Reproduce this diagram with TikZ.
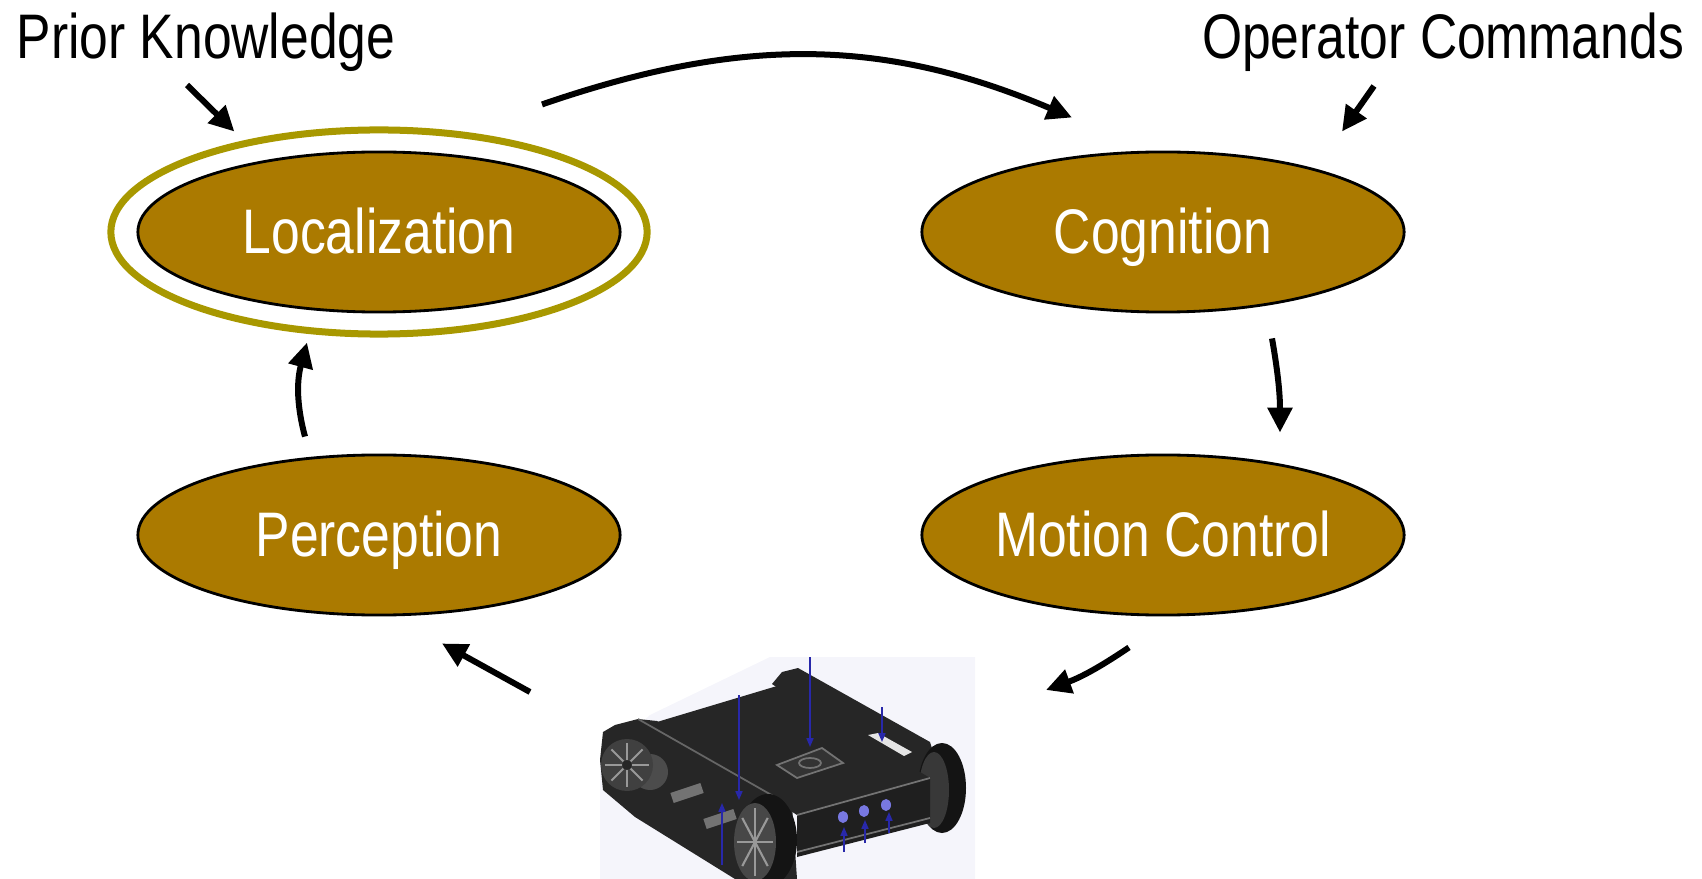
\documentclass[tikz,border=0pt]{standalone}
\usepackage{fontspec}
\usetikzlibrary{arrows.meta,shapes.geometric}
\newfontfamily\narrowsf[FakeStretch=0.82]{Liberation Sans}
\definecolor{ovalfill}{RGB}{171,122,0}
\definecolor{ringgold}{RGB}{168,152,0}
\definecolor{dimblue}{RGB}{40,40,170}
\definecolor{btnblue}{RGB}{120,120,225}
\definecolor{bgshade}{RGB}{245,245,251}

\begin{document}
\begin{tikzpicture}[x=0.01cm,y=0.01cm,>={Triangle[length=0.25cm,width=0.24cm]},
	stage/.style={ellipse,draw=black,line width=0.8pt,fill=ovalfill,text=white,
		minimum width=4.82cm,minimum height=1.6cm,inner sep=0pt,
		font=\narrowsf\fontsize{17.9}{20}\selectfont,text height=0.42cm,text depth=0pt},
	ring/.style={ellipse,draw=ringgold,line width=0.07cm,
		minimum width=5.36cm,minimum height=2.04cm,inner sep=0pt},
	inputlabel/.style={font=\narrowsf\fontsize{17.9}{20}\selectfont,inner sep=0pt,anchor=base},
	flow/.style={->,line width=0.06cm},
	dimline/.style={dimblue,line width=0.4pt,-{Triangle[length=2.5pt,width=2pt]}}]
	\useasboundingbox (0,0) rectangle (1702,-879);

	% the four stages
	\node[stage] (loc) at (379,-232) {Localization};
	\node[ring] (locring) at (loc) {};
	\node[stage] (cog) at (1163,-232) {Cognition};
	\node[stage] (per) at (379,-535) {Perception};
	\node[stage] (mot) at (1163,-535) {Motion Control};
	\node[inputlabel] (prior) at (206,-59) {Prior Knowledge};
	\node[inputlabel] (oper) at (1443,-59) {Operator Commands};

	% robot
	\fill[bgshade] (770,-657) -- (975,-657) -- (975,-879) -- (600,-879) -- (600,-760) -- (650,-715) -- cycle;
	\fill[black!85] (772,-684) -- (782,-672) -- (798,-668) -- (930,-742) -- (948,-800) -- (925,-790) -- cycle;
	\fill[black!92] (942,-788) ellipse [x radius=24, y radius=45];
	\fill[black!78] (934,-790) ellipse [x radius=15, y radius=38];
	\fill[black!85] (657,-722) -- (777,-686) -- (930,-778) -- (797,-815) -- cycle;
	\fill[white!90!black] (868,-735) -- (878,-733) -- (912,-752) -- (904,-756) -- cycle;
	\fill[black!88] (797,-815) -- (930,-778) -- (930,-823) -- (797,-857) -- cycle;
	\draw[black!55,line width=0.5pt] (797,-815) -- (930,-778);
	\draw[black!55,line width=0.5pt] (797,-852) -- (930,-818);
	\draw[black!55,line width=0.5pt,fill=black!80] (777,-765) -- (822,-748) -- (843,-763) -- (797,-778) -- cycle;
	\draw[black!55,line width=0.5pt] (810,-763) ellipse [x radius=11, y radius=5];
	\fill[black!85] (603,-732) -- (615,-725) -- (638,-719) -- (657,-721) -- (775,-797) -- (792,-805)
		-- (797,-879) -- (735,-879) -- (635,-817) -- (603,-790) -- (600,-760) -- cycle;
	\draw[black!60,line width=0.5pt] (638,-719) -- (775,-797);
	\draw[black!55,line width=3pt] (672,-798) -- (702,-788);
	\draw[black!55,line width=3pt] (705,-824) -- (735,-814);
	\fill[black!70] (650,-772) circle [radius=18];
	\fill[black!75] (627,-765) circle [radius=26];
	\foreach \a in {0,45,...,315}
		\draw[black!40,line width=0.6pt] (627,-765) -- ++(\a:22);
	\fill[black!85] (627,-765) circle [radius=5];
	\fill[black!92] (768,-840) ellipse [x radius=29, y radius=46];
	\fill[black!72] (755,-842) ellipse [x radius=21, y radius=39];
	\foreach \a in {0,45,...,315}
		\draw[black!40,line width=0.6pt] (755,-842) -- ++({18*cos(\a)},{34*sin(\a)});
	\foreach \bx/\by in {843/817,864/811,886/805}
		\fill[btnblue] (\bx,-\by) ellipse [x radius=5, y radius=6];
	\draw[dimline] (810,-657) -- (810,-747);
	\draw[dimline] (739,-695) -- (739,-800);
	\draw[dimline] (882,-707) -- (882,-742);
	\draw[dimline] (722,-865) -- (722,-803);
	\draw[dimline] (844,-852) -- (844,-827);
	\draw[dimline] (865,-843) -- (865,-820);
	\draw[dimline] (889,-833) -- (889,-812);
	\coordinate (robotL) at (530,-692);
	\coordinate (robotR) at (1046,-690);

	% loop
	\draw[flow] ([shift={(-19,-26)}]prior.base) -- ([shift={(-9,9)}]locring.146);
	\draw[flow] ([shift={(-69,-27)}]oper.base) -- ([shift={(179,19)}]cog.north);
	\draw[flow] ([shift={(163,22)}]locring.north) to[out=19,in=157] ([shift={(-91,33)}]cog.north);
	\draw[flow] ([shift={(109,-25)}]cog.south) to[out=-80,in=90] ([shift={(117,21)}]mot.north);
	\draw[flow] ([shift={(-34,-31)}]mot.south) to[out=214,in=20] (robotR);
	\draw[flow] (robotL) -- ([shift={(63,-27)}]per.south);
	\draw[flow] ([shift={(-74,17)}]per.north) to[out=105,in=-105] ([shift={(-72,-5)}]locring.south);
\end{tikzpicture}
\end{document}
